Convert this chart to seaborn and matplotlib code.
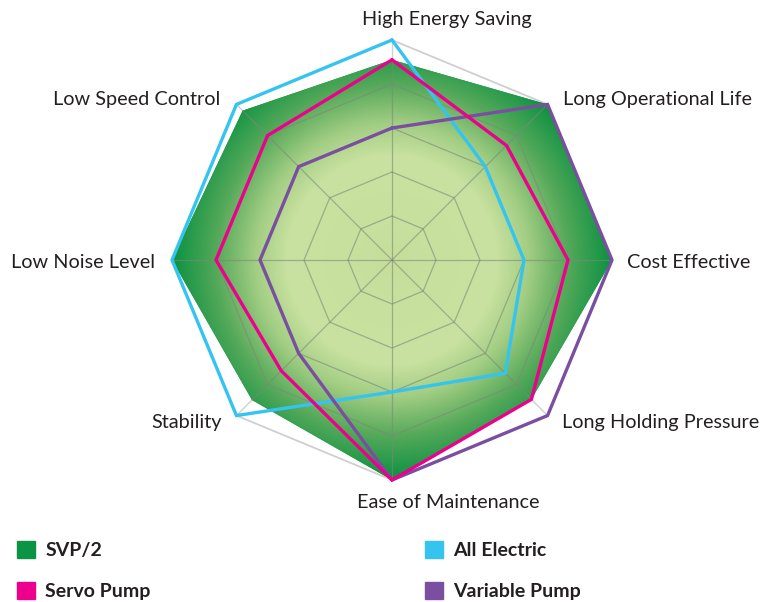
import numpy as np
import pandas as pd
import matplotlib
matplotlib.use("Agg")
import matplotlib.pyplot as plt
from matplotlib.colors import LinearSegmentedColormap
from matplotlib.patches import Patch
import seaborn as sns

# ---- data (score 0..5, clockwise from the top) ----
categories = ["High Energy Saving", "Long Operational Life", "Cost Effective",
              "Long Holding Pressure", "Ease of Maintenance", "Stability",
              "Low Noise Level", "Low Speed Control"]
svp2 = [4.55, 5.0, 5.0, 4.48, 5.0, 4.5, 5.0, 4.8]
all_electric = [5.0, 3.0, 3.0, 3.64, 3.0, 5.0, 5.0, 5.0]
servo_pump = [4.55, 3.68, 4.0, 4.48, 5.0, 3.56, 4.0, 4.0]
variable_pump = [3.0, 5.0, 5.0, 5.0, 5.0, 3.0, 3.0, 3.0]
levels = [1, 2, 3, 4, 5]

colors = {"SVP/2": "#0b9444", "All Electric": "#35c4f0",
          "Servo Pump": "#ec008c", "Variable Pump": "#7b4fa0"}

sns.set_theme(style="white")
plt.rcParams['font.family'] = ['Lato', 'DejaVu Sans']

n = len(categories)
angles = np.pi / 2 - np.arange(n) * 2 * np.pi / n


def to_xy(vals):
    v = np.append(vals, vals[0])
    a = np.append(angles, angles[0])
    return v * np.cos(a), v * np.sin(a)


fig = plt.figure(figsize=(7.69, 6.02), dpi=100)
R = 5.3
px = 44  # pixels per unit
ax = fig.add_axes([(392 - R * px) / 769, (602 - 260 - R * px) / 602,
                   2 * R * px / 769, 2 * R * px / 602])

# outer frame and spokes (light grey, under the fill)
ox, oy = to_xy([levels[-1]] * n)
ax.plot(ox, oy, color="#cfcfcf", lw=1.3, zorder=1)
for a in angles:
    ax.plot([0, 5 * np.cos(a)], [0, 5 * np.sin(a)], color="#cfcfcf", lw=1.0, zorder=1)

# SVP/2 gradient fill
gx, gy = to_xy(svp2)
poly = ax.fill(gx, gy, color=colors["SVP/2"], lw=0, zorder=2)[0]
grid = np.linspace(-5, 5, 600)
X, Y = np.meshgrid(grid, grid)
rr = np.hypot(X, Y) / 5
cmap = LinearSegmentedColormap.from_list(
    "svp", [(0, "#c5df9b"), (0.47, "#cae2a1"), (0.62, "#a3ce84"),
            (0.8, "#56a95a"), (1.0, "#0b9142")])
im = ax.imshow(rr, extent=[-5, 5, -5, 5], origin="lower", cmap=cmap,
               vmin=0, vmax=1, zorder=2.1, interpolation="bilinear")
im.set_clip_path(poly)

# inner grid, drawn over the fill
for lvl in levels[:-1]:
    rx, ry = to_xy([lvl] * n)
    ln, = ax.plot(rx, ry, color="#7d8877", lw=0.9, alpha=0.6, zorder=3)
    ln.set_clip_path(poly)
for a in angles:
    ln, = ax.plot([0, 5 * np.cos(a)], [0, 5 * np.sin(a)], color="#7d8877",
                  lw=0.9, alpha=0.6, zorder=3)
    ln.set_clip_path(poly)

# series outlines
rows = []
for name, vals in [("All Electric", all_electric), ("Variable Pump", variable_pump),
                   ("Servo Pump", servo_pump)]:
    x, y = to_xy(vals)
    for xi, yi in zip(x, y):
        rows.append({"series": name, "x": xi, "y": yi})
df = pd.DataFrame(rows)
sns.lineplot(data=df, x="x", y="y", hue="series",
             hue_order=["All Electric", "Variable Pump", "Servo Pump"],
             palette=colors, sort=False, estimator=None, lw=2.4,
             solid_joinstyle="miter", legend=False, ax=ax, zorder=4)

ax.set_xlim(-R, R)
ax.set_ylim(-R, R)
ax.set_aspect("auto")
ax.axis("off")

# category labels (pixel offsets from each spoke tip)
offsets = [(-30, 20, "left"), (15, 5, "left"), (15, -2, "left"), (14, -7, "left"),
           (-35, -23, "left"), (-15, -7, "right"), (-17, -2, "right"), (-16, 5, "right")]
for cat, a, (dx, dy, ha) in zip(categories, angles, offsets):
    ax.annotate(cat, xy=(5 * np.cos(a), 5 * np.sin(a)), xytext=(dx, dy),
                textcoords="offset pixels", ha=ha, va="center",
                fontsize=14.3, color="#231f20")

# legend
leg_kw = dict(loc="upper left", frameon=False, prop=dict(weight="bold", size=14),
              handlelength=0.95, handleheight=0.95, handletextpad=0.5,
              labelspacing=1.18, borderpad=0, borderaxespad=0, labelcolor="#231f20")
fig.legend(handles=[Patch(color=colors["SVP/2"], label="SVP/2"),
                    Patch(color=colors["Servo Pump"], label="Servo Pump")],
           bbox_to_anchor=(17 / 769, 1 - 541 / 602), **leg_kw)
fig.legend(handles=[Patch(color=colors["All Electric"], label="All Electric"),
                    Patch(color=colors["Variable Pump"], label="Variable Pump")],
           bbox_to_anchor=(425 / 769, 1 - 541 / 602), **leg_kw)

fig.savefig("out.png", dpi=100)
